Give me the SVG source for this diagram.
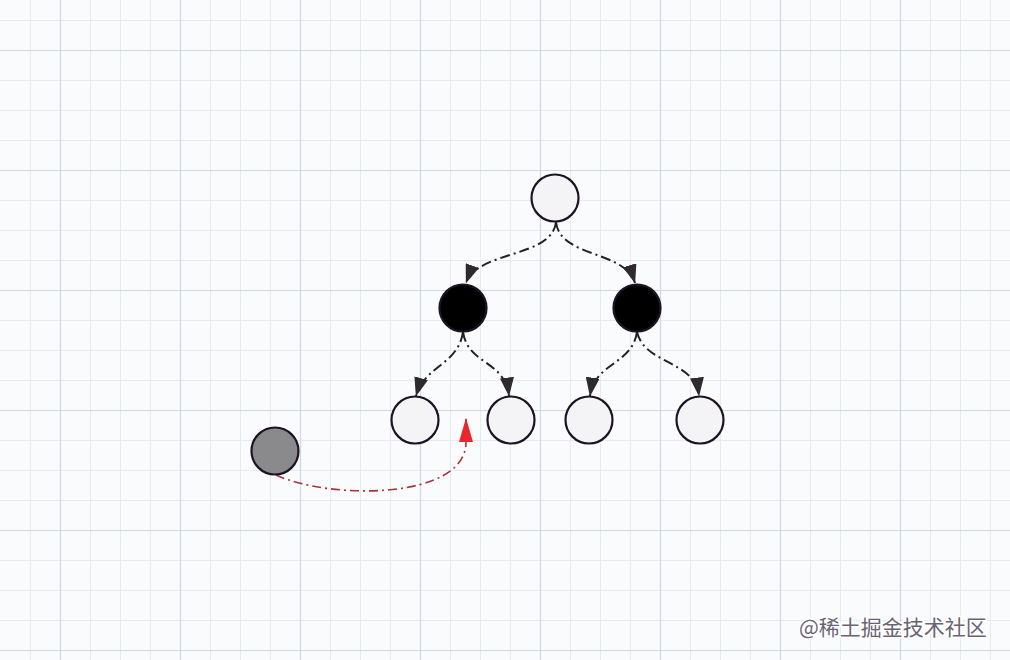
<svg xmlns="http://www.w3.org/2000/svg" width="1010" height="660" viewBox="0 0 1010 660">
<style>
.minor{stroke:#e7eaef;stroke-width:1;fill:none}
.major{stroke:#d3d8df;stroke-width:1.2;fill:none}
.node{stroke:#1c1424;stroke-width:2.2}
.white{fill:#f4f4f6}
.black{fill:#000}
.gray{fill:#8a8a8c}
.edge{fill:none;stroke:#222;stroke-width:2;stroke-dasharray:10 4 2 4}
.red{fill:none;stroke:#a8333c;stroke-width:1.6;stroke-dasharray:9 4 2 4}
.wm{font-family:"Noto Sans CJK SC","Liberation Sans",sans-serif;font-size:21px;fill:#6a6476;stroke:#ffffff;stroke-width:3;paint-order:stroke}
</style>
<defs>
<marker id="arr" viewBox="0 0 19 14" refX="18.5" refY="7" markerWidth="19" markerHeight="14" markerUnits="userSpaceOnUse" orient="auto">
<path d="M0 0L19 7L0 14Z" fill="#2e2a2e"/>
</marker>
<marker id="arrRed" viewBox="0 0 24 14" refX="23" refY="7" markerWidth="24" markerHeight="14" markerUnits="userSpaceOnUse" orient="auto">
<path d="M0 0L24 7L0 14Z" fill="#e8262b"/>
</marker>
</defs>
<rect width="1010" height="660" fill="#fafbfd"/>
<g id="grid">
<path class="minor" d="M30.5 0V660M90.5 0V660M120.5 0V660M150.5 0V660M210.5 0V660M240.5 0V660M270.5 0V660M330.5 0V660M360.5 0V660M390.5 0V660M450.5 0V660M480.5 0V660M510.5 0V660M570.5 0V660M600.5 0V660M630.5 0V660M690.5 0V660M720.5 0V660M750.5 0V660M810.5 0V660M840.5 0V660M870.5 0V660M930.5 0V660M960.5 0V660M990.5 0V660"/>
<path class="minor" d="M0 20.5H1010M0 80.5H1010M0 110.5H1010M0 140.5H1010M0 200.5H1010M0 230.5H1010M0 260.5H1010M0 320.5H1010M0 350.5H1010M0 380.5H1010M0 440.5H1010M0 470.5H1010M0 500.5H1010M0 560.5H1010M0 590.5H1010M0 620.5H1010"/>
<path class="major" d="M60.5 0V660M180.5 0V660M300.5 0V660M420.5 0V660M540.5 0V660M660.5 0V660M780.5 0V660M900.5 0V660M0 50.5H1010M0 170.5H1010M0 290.5H1010M0 410.5H1010M0 530.5H1010M0 650.5H1010"/>
</g>
<g id="connectors">
<path class="edge" d="M556 222C552 258 478 250 466 283" marker-end="url(#arr)"/>
<path class="edge" d="M556 222C560 258 625 250 635 283" marker-end="url(#arr)"/>
<path class="edge" d="M463 332C458 365 425 365 416 396" marker-end="url(#arr)"/>
<path class="edge" d="M463 332C468 365 505 360 509 396" marker-end="url(#arr)"/>
<path class="edge" d="M637 332C632 365 595 362 590 396" marker-end="url(#arr)"/>
<path class="edge" d="M637 332C645 365 695 360 699 396" marker-end="url(#arr)"/>
<path class="red" d="M276 475C330 500 466 500 466 442L466 419" marker-end="url(#arrRed)"/>
</g>
<g id="root"><circle class="node white" cx="555" cy="198" r="23.5"/></g>
<g id="blackL"><circle class="node black" cx="463" cy="308" r="23.5"/></g>
<g id="blackR"><circle class="node black" cx="637" cy="308" r="23.5"/></g>
<g id="leaf1"><circle class="node white" cx="415" cy="420" r="23.5"/></g>
<g id="leaf2"><circle class="node white" cx="511" cy="420" r="23.5"/></g>
<g id="leaf3"><circle class="node white" cx="589" cy="420" r="23.5"/></g>
<g id="leaf4"><circle class="node white" cx="700" cy="420" r="23.5"/></g>
<g id="grayNode"><circle class="node gray" cx="275" cy="451" r="23.5"/></g>
<text class="wm" x="799" y="635">@稀土掘金技术社区</text>
</svg>
